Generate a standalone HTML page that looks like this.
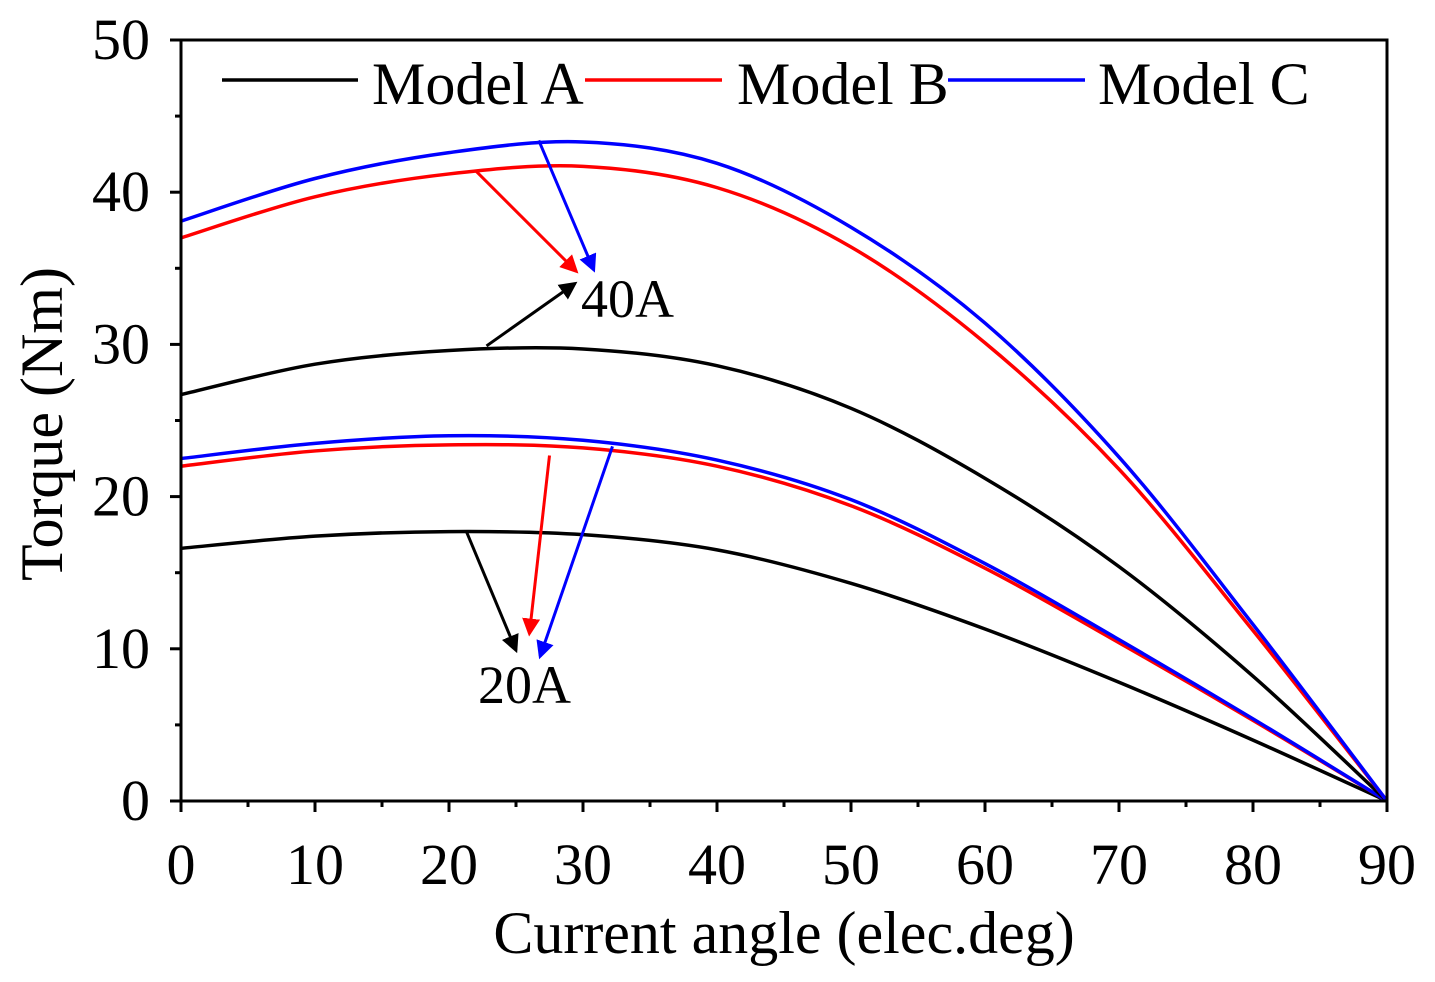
<!DOCTYPE html>
<html><head><meta charset="utf-8"><style>
html,body{margin:0;padding:0;background:#fff;}
svg{display:block;font-family:"Liberation Serif",serif;}
</style></head><body>
<svg id="chart" width="1435" height="982" viewBox="0 0 1435 982" xmlns="http://www.w3.org/2000/svg">
<g id="grid"></g>
</svg>
<script>
const xAngles = [0,10,20,30,40,50,60,70,80,90];
const modelC40 = [38.1,40.9,42.6,43.3,41.9,37.7,31.4,22.6,11.6,0];
const modelB40 = [37.0,39.7,41.2,41.7,40.3,36.4,30.1,21.8,11.2,0];
const modelA40 = [26.7,28.7,29.6,29.7,28.6,25.8,21.2,15.4,8.2,0];
const modelC20 = [22.5,23.5,24.0,23.7,22.4,19.8,15.6,10.6,5.4,0];
const modelB20 = [22.0,23.0,23.4,23.2,22.0,19.4,15.3,10.4,5.3,0];
const modelA20 = [16.6,17.4,17.7,17.5,16.5,14.3,11.3,7.8,4.0,0];
const xTicks = [0,10,20,30,40,50,60,70,80,90];
const yTicks = [0,10,20,30,40,50];
const arrows40 = [[22.0,41.4,29.5,34.8,'red'],[26.7,43.4,30.8,34.9,'blue'],[22.8,29.9,29.4,34.0,'black']];
const arrows20 = [[21.3,17.7,25.0,9.9,'black'],[27.5,22.7,26.0,11.0,'red'],[32.2,23.3,26.8,9.5,'blue']];

const X0=181,X1=1387,Y0=801,Y1=40;
const sx=v=>X0+(v/90)*(X1-X0);
const sy=v=>Y0-(v/50)*(Y0-Y1);
const svg=document.getElementById('chart');
const NS='http://www.w3.org/2000/svg';
function mk(tag,attrs,parent){const e=document.createElementNS(NS,tag);for(const k in attrs)e.setAttribute(k,attrs[k]);(parent||svg).appendChild(e);return e;}

const defs=mk('defs',{});
['red','blue','black'].forEach(c=>{
  const m=mk('marker',{id:'ah-'+c,markerWidth:6,markerHeight:6,refX:5,refY:3,orient:'auto',markerUnits:'strokeWidth'},defs);
  mk('path',{d:'M0,0 L6,3 L0,6 Z',fill:c},m);
});

function curvePath(ys){
  const p=xAngles.map((x,i)=>[sx(x),sy(ys[i])]);
  let d='M'+p[0][0]+','+p[0][1];
  for(let i=0;i<p.length-1;i++){
    const a=p[Math.max(i-1,0)],b=p[i],c=p[i+1],e=p[Math.min(i+2,p.length-1)];
    const c1=[b[0]+(c[0]-a[0])/6,b[1]+(c[1]-a[1])/6];
    const c2=[c[0]-(e[0]-b[0])/6,c[1]-(e[1]-b[1])/6];
    d+=` C${c1[0]},${c1[1]} ${c2[0]},${c2[1]} ${c[0]},${c[1]}`;
  }
  return d;
}
const series=[[modelA20,'black','model-a-20a'],[modelB20,'red','model-b-20a'],[modelC20,'blue','model-c-20a'],
              [modelA40,'black','model-a-40a'],[modelB40,'red','model-b-40a'],[modelC40,'blue','model-c-40a']];
series.forEach(s=>{
  const el=mk('path',{d:curvePath(s[0]),fill:'none',stroke:s[1],'stroke-width':3.5});
  
  
});

const frame=mk('rect',{x:X0,y:Y1,width:X1-X0,height:Y0-Y1,fill:'none',stroke:'#000','stroke-width':3});



for(let v=0;v<=90;v+=5){
  const major=v%10===0;
  mk('line',{x1:sx(v),x2:sx(v),y1:Y0,y2:Y0+(major?11:6),stroke:'#000','stroke-width':3});
}
xTicks.forEach(v=>{
  const t=mk('text',{x:sx(v),y:884,'font-size':58,'text-anchor':'middle'});
  t.textContent=v;
  
  
});
for(let v=0;v<=50;v+=5){
  const major=v%10===0;
  mk('line',{x1:X0,x2:X0-(major?11:6),y1:sy(v),y2:sy(v),stroke:'#000','stroke-width':3});
}
yTicks.forEach(v=>{
  const t=mk('text',{x:150,y:sy(v)+19,'font-size':58,'text-anchor':'end'});
  t.textContent=v;
  
  
});

function arrow(a){
  const l=mk('line',{x1:sx(a[0]),y1:sy(a[1]),x2:sx(a[2]),y2:sy(a[3]),stroke:a[4],'stroke-width':3,'marker-end':'url(#ah-'+a[4]+')'});
  
  
}
arrows40.forEach(arrow);arrows20.forEach(arrow);
</script>
<svg style="position:absolute;left:0;top:0" width="1435" height="982" xmlns="http://www.w3.org/2000/svg">
<text x="581" y="317" font-size="54" font-family="Liberation Serif, serif">40A</text>
<text x="478" y="703" font-size="54" font-family="Liberation Serif, serif">20A</text>
<g font-family="Liberation Serif, serif" font-size="60">
<line x1="222" y1="80" x2="358" y2="80" stroke="#000" stroke-width="3.5"/>
<text x="372" y="104">Model A</text>
<line x1="585" y1="80" x2="722" y2="80" stroke="red" stroke-width="3.5"/>
<text x="737" y="104">Model B</text>
<line x1="948" y1="80" x2="1085" y2="80" stroke="blue" stroke-width="3.5"/>
<text x="1098" y="104">Model C</text>
</g>
<text x="784" y="953" font-size="60" text-anchor="middle" font-family="Liberation Serif, serif">Current angle (elec.deg)</text>
<text transform="translate(62,424) rotate(-90)" font-size="60" text-anchor="middle" font-family="Liberation Serif, serif">Torque (Nm)</text>
</svg>
</body></html>
